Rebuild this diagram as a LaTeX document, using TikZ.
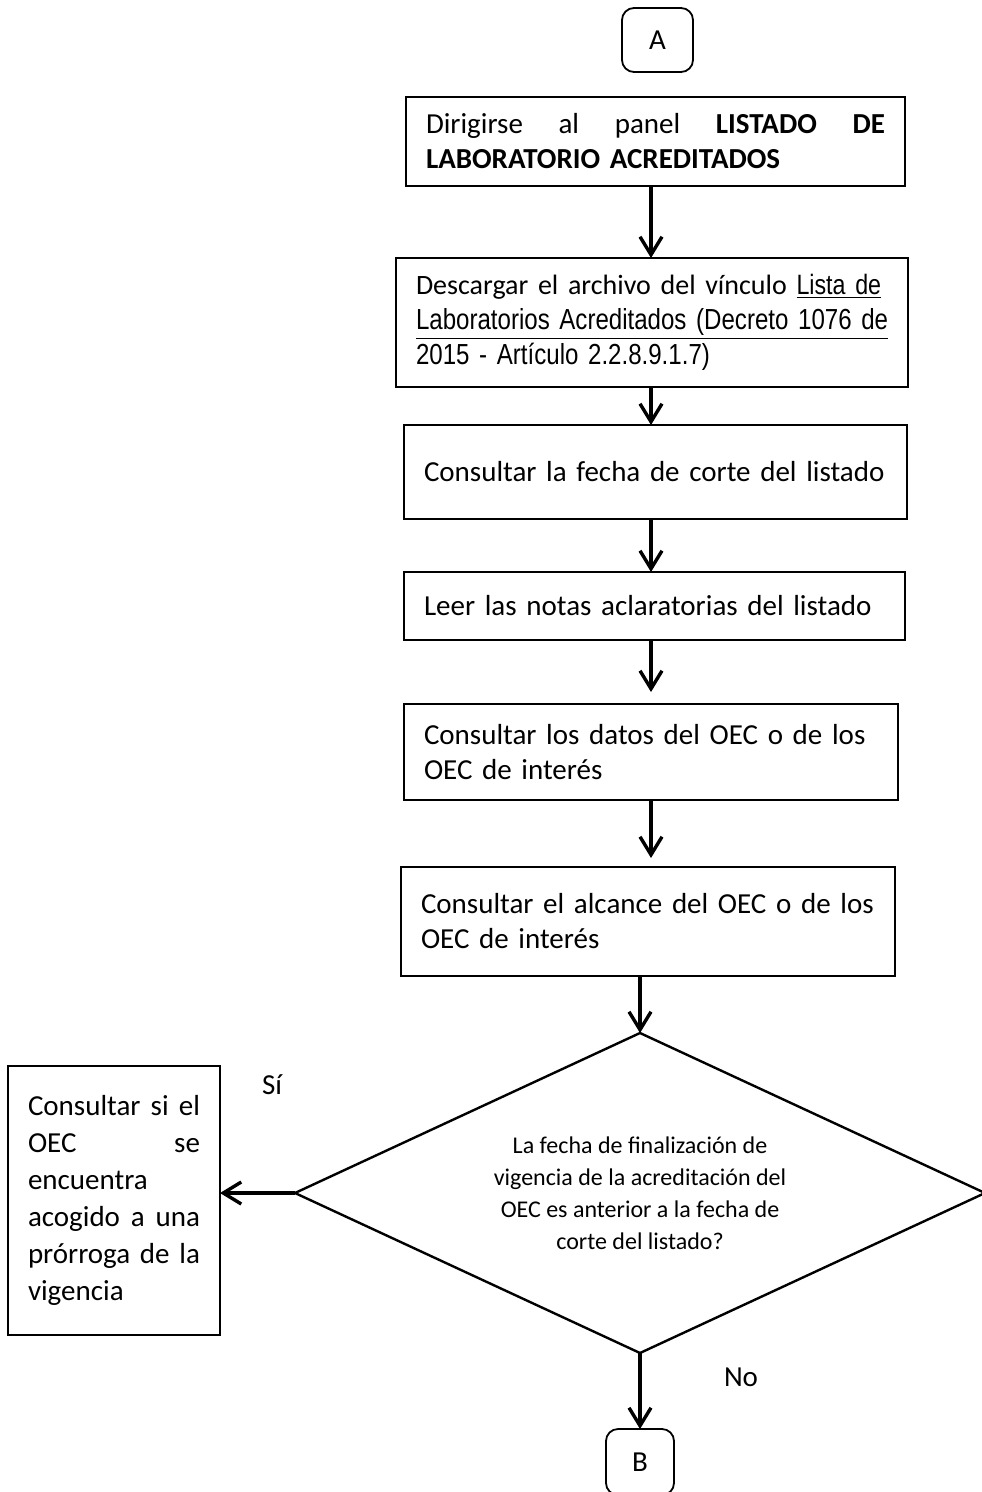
\documentclass[tikz,border=0pt]{standalone}
\usepackage{fontspec}
\setmainfont{Carlito}
\newfontfamily\narrowfont[FakeStretch=0.83]{Liberation Sans}
\usetikzlibrary{positioning,shapes.geometric,arrows.meta}

\begin{document}
\begin{tikzpicture}
    [x=0.5pt,y=-0.5pt,
     pg/.style={outer sep=0,draw,line width=1.2pt,inner ysep=0pt,
                font=\fontsize{14.5}{17.5}\selectfont},
     p/.style={pg,align=left,anchor=north west,inner xsep=10pt},
     c/.style={pg,rounded corners=6pt,line width=0.9pt},
     d/.style={pg,shape=diamond,aspect=2.2,align=center,inner sep=0pt,
               font=\fontsize{12}{16}\selectfont},
     ar/.style={line width=1.7pt,-{Straight Barb[length=9pt,width=11pt,line width=1.7pt]}}]
    \useasboundingbox (0,0) rectangle (981,1492);
    \coordinate (ax) at (651,0);

    \node[c, minimum width=35.5pt, minimum height=32pt] (ca) at (657.5,40) {A};

    \node[p, minimum height=44.5pt, text width=229.5pt] (dir) at (406,97)
      {Dirigirse\hfill al\hfill panel\hfill \textbf{LISTADO}\hfill \textbf{DE}\\
       \textbf{LABORATORIO ACREDITADOS}};

    \node[p, minimum height=64.5pt, text width=236pt] (desc) at (396,258)
      {\makebox[\linewidth][s]{\fontsize{14}{17.5}\selectfont Descargar el archivo del vínculo {\narrowfont\underline{Lista de}}}\\
       {\narrowfont\underline{\makebox[\linewidth][s]{Laboratorios Acreditados (Decreto 1076 de}}}\\
       {\narrowfont 2015 - Artículo 2.2.8.9.1.7)}};

    \node[p, minimum height=47pt, text width=231.5pt] (fch) at (404,425)
      {Consultar la fecha de corte del listado\\[2pt]};

    \node[p, minimum height=34pt, text width=230.5pt] (nts) at (404,572)
      {Leer las notas aclaratorias del listado\\[8pt]};

    \node[p, minimum height=48pt, text width=227pt] (dat) at (404,704)
      {Consultar los datos del OEC o de los\\OEC de interés};

    \node[p, minimum height=54.5pt, text width=227pt] (alc) at (401,867)
      {Consultar el alcance del OEC o de los\\OEC de interés\\[12pt]};

    \node[d, minimum width=345pt, minimum height=160pt] (vig) at (640,1193)
      {La fecha de finalización de\\vigencia de la acreditación del\\
       OEC es anterior a la fecha de\\corte del listado?};

    \node[p, minimum height=134.5pt, text width=86pt, inner xsep=10pt,
          font=\fontsize{14.5}{18.5}\selectfont] (pro) at (8,1066)
      {Consultar\hfill si\hfill el\\OEC\hfill se\\encuentra\\
       acogido\hfill a\hfill una\\prórroga\hfill de\hfill la\\vigencia\\[22pt]};

    \node[c, minimum width=34pt, minimum height=33pt] (cb) at (640,1462) {B};

    \node[font=\fontsize{14.5}{15}\selectfont] (si) at (272,1085) {Sí};
    \node[font=\fontsize{14.5}{15}\selectfont] (no) at (741,1377) {No};

    \draw[ar] (dir.south -| ax) -- (desc.north -| ax);
    \draw[ar] (desc.south -| ax) -- (fch.north -| ax);
    \draw[ar] (fch.south -| ax) -- (nts.north -| ax);
    \draw[ar] (nts.south -| ax) -- ++(0,52);
    \draw[ar] (dat.south -| ax) -- ++(0,58);
    \draw[ar] (alc.south -| vig.north) -- (vig.north);
    \draw[ar] (vig.west) -- (pro.east |- vig.west);
    \draw[ar] (vig.south) -- (cb.north);
\end{tikzpicture}
\end{document}
